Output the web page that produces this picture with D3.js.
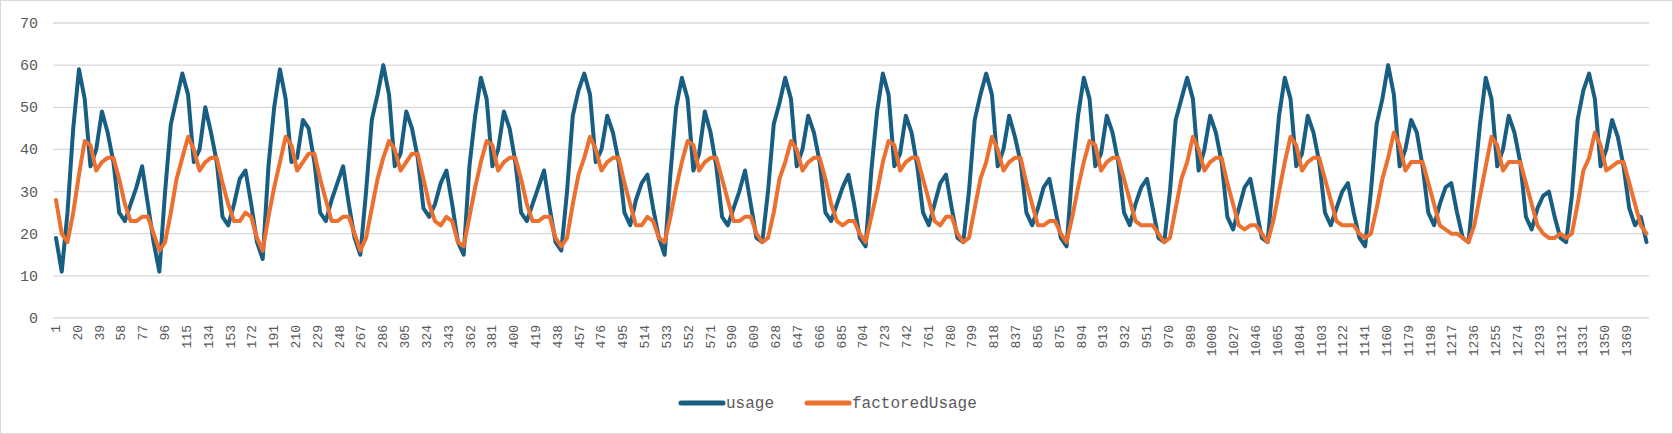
<!DOCTYPE html>
<html>
<head>
<meta charset="utf-8">
<script src="https://cdn.jsdelivr.net/npm/d3@7"></script>
<style>
  body { margin: 0; background: #fff; }
  text { font-family: "Liberation Mono", "DejaVu Sans Mono", monospace; fill: #595959; }
</style>
</head>
<body>
<svg id="chart" width="1673" height="434"></svg>
<script>
// readings sampled every 5th row (row 1, 6, 11, ...)
const Step = 5;
const usage = [
  19, 11, 25, 45,
  59, 52, 36, 40, 49, 44, 37, 25, 23, 27, 31, 36, 27, 18, 11, 30, 46, 52,
  58, 53, 37, 40, 50, 44, 37, 24, 22, 27, 33, 35, 27, 18, 14, 36, 50,
  59, 52, 37, 38, 47, 45, 37, 25, 23, 28, 32, 36, 27, 19, 15, 30, 47, 53,
  60, 53, 36, 39, 49, 45, 38, 26, 24, 27, 32, 35, 27, 18, 15, 36, 48,
  57, 52, 36, 40, 49, 45, 37, 25, 23, 27, 31, 35, 26, 18, 16, 30, 48, 54,
  58, 53, 37, 40, 48, 44, 37, 25, 22, 28, 32, 34, 26, 19, 15, 34, 50,
  57, 52, 35, 39, 49, 44, 36, 24, 22, 26, 30, 35, 27, 19, 18, 30, 46, 51,
  57, 52, 36, 40, 48, 44, 37, 25, 23, 27, 31, 34, 27, 19, 17, 35, 49,
  58, 53, 36, 39, 48, 44, 36, 25, 22, 27, 32, 34, 26, 19, 18, 30, 47, 53,
  58, 53, 36, 40, 48, 43, 37, 25, 22, 26, 31, 33, 26, 19, 17, 35, 48,
  57, 52, 36, 39, 48, 44, 37, 25, 22, 27, 31, 33, 26, 19, 18, 30, 47, 52,
  57, 52, 35, 40, 48, 44, 37, 24, 21, 26, 31, 33, 26, 19, 18, 33, 48,
  57, 52, 36, 39, 48, 44, 37, 25, 22, 26, 30, 32, 25, 19, 17, 30, 46, 52,
  60, 53, 36, 40, 47, 44, 36, 25, 22, 27, 31, 32, 25, 19, 18, 32, 46,
  57, 52, 36, 40, 48, 44, 37, 24, 21, 26, 29, 30, 24, 19, 18, 29, 47, 54,
  58, 52, 36, 40, 47, 43, 36, 26, 22, 24, 18
];
const factoredUsage = [
  28, 20, 18, 25,
  34, 42, 41, 35, 37, 38, 38, 33, 27, 23, 23, 24, 24, 20, 16, 18, 25, 33,
  38, 43, 40, 35, 37, 38, 38, 32, 27, 23, 23, 25, 24, 19, 16, 24, 31,
  37, 43, 41, 35, 37, 39, 39, 33, 28, 23, 23, 24, 24, 20, 16, 19, 26, 33,
  38, 42, 40, 35, 37, 39, 39, 33, 27, 23, 22, 24, 23, 18, 17, 24, 31,
  37, 42, 41, 35, 37, 38, 38, 33, 27, 23, 23, 24, 24, 19, 17, 19, 27, 34,
  38, 43, 40, 35, 37, 38, 38, 32, 27, 22, 22, 24, 23, 19, 18, 24, 31,
  37, 42, 41, 35, 37, 38, 38, 33, 28, 23, 23, 24, 24, 20, 18, 19, 25, 33,
  37, 42, 40, 35, 37, 38, 38, 33, 27, 23, 22, 23, 23, 20, 18, 24, 30,
  37, 42, 41, 35, 37, 38, 38, 33, 28, 23, 22, 24, 24, 20, 18, 19, 26, 33,
  37, 43, 40, 35, 37, 38, 38, 32, 27, 22, 22, 23, 23, 20, 18, 24, 31,
  37, 42, 41, 35, 37, 38, 38, 33, 28, 23, 22, 22, 22, 20, 18, 19, 26, 33,
  37, 43, 40, 35, 37, 38, 38, 32, 27, 22, 21, 22, 22, 20, 18, 23, 30,
  37, 43, 41, 35, 37, 38, 38, 33, 28, 23, 22, 22, 22, 20, 19, 20, 26, 33,
  38, 44, 41, 35, 37, 37, 37, 32, 27, 22, 21, 20, 20, 19, 18, 22, 29,
  36, 43, 41, 35, 37, 37, 37, 32, 27, 22, 20, 19, 19, 20, 19, 20, 27, 35,
  38, 44, 41, 35, 36, 37, 37, 32, 27, 22, 20
];
const lastTick = 1369;
const tickEvery = 19;
const yTicks = [0, 10, 20, 30, 40, 50, 60, 70];
const seriesNames = ["usage", "factoredUsage"];
const colors = ["#175e82", "#ec7030"];

const svg = d3.select("#chart");
svg.append("rect").attr("x", 0.5).attr("y", 0.5).attr("width", 1672).attr("height", 433)
  .attr("fill", "#fff").attr("stroke", "#d9d9d9");

const x = d3.scaleLinear().domain([1, 1369]).range([56, 1627]);
const y = d3.scaleLinear().domain([0, 70]).range([318, 23]);
const left = 53, right = 1649;

// gridlines + y labels
svg.append("g").selectAll("line").data(yTicks).enter().append("line")
  .attr("x1", left).attr("x2", right)
  .attr("y1", (d) => y(d)).attr("y2", (d) => y(d))
  .attr("stroke", "#d9d9d9").attr("stroke-width", 1.3);
svg.append("g").selectAll("text").data(yTicks).enter().append("text")
  .attr("x", 38).attr("y", (d) => y(d) + 5)
  .attr("text-anchor", "end").attr("font-size", 15).text(String);

// x labels, rotated
const xTicks = d3.range(1, lastTick + 1, tickEvery);
svg.append("g").selectAll("text").data(xTicks).enter().append("text")
  .attr("transform", (d) => `translate(${x(d) + 4},325) rotate(-90)`)
  .attr("text-anchor", "end").attr("font-size", 13).text(String);

const line = d3.line().x((d, i) => x(1 + i * Step)).y((d) => y(d));
[usage, factoredUsage].forEach((vals, i) => {
  svg.append("path").datum(vals).attr("d", line)
    .attr("fill", "none").attr("stroke", colors[i]).attr("stroke-width", 4)
    .attr("stroke-linejoin", "round").attr("stroke-linecap", "round");
});

// legend
const legend = svg.append("g");
const lx = [681, 807];
seriesNames.forEach((name, i) => {
  legend.append("line").attr("x1", lx[i]).attr("x2", lx[i] + 42).attr("y1", 403).attr("y2", 403)
    .attr("stroke", colors[i]).attr("stroke-width", 5).attr("stroke-linecap", "round");
  legend.append("text").attr("x", lx[i] + 45).attr("y", 408).attr("font-size", 16).text(name);
});
</script>
</body>
</html>
